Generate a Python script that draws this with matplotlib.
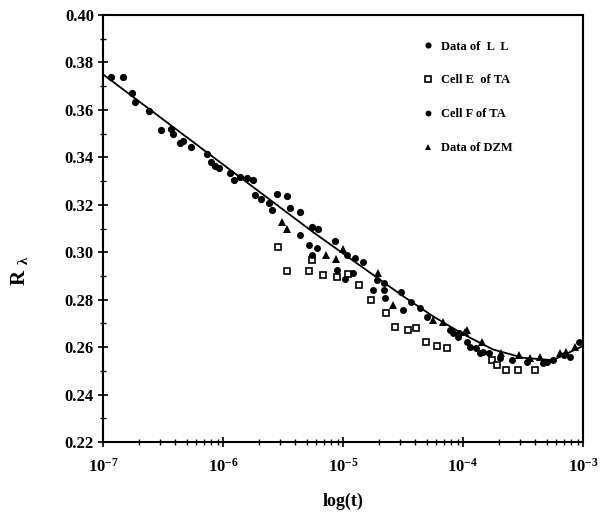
import numpy as np
import matplotlib
matplotlib.use("Agg")
import matplotlib.pyplot as plt
from matplotlib.ticker import FixedLocator, LogLocator, NullFormatter, MultipleLocator

plt.rcParams['font.family'] = ['Liberation Serif', 'DejaVu Serif']
plt.rcParams['font.weight'] = 'bold'
plt.rcParams['mathtext.fontset'] = 'custom'
plt.rcParams['mathtext.rm'] = 'Liberation Serif:bold'
plt.rcParams['mathtext.bf'] = 'Liberation Serif:bold'
plt.rcParams['mathtext.it'] = 'Liberation Serif:bold'

# ---- data (log10 of t, R_lambda) ----
ll_logt = [-6.93, -6.83, -6.76, -6.73, -6.62, -6.52, -6.43, -6.42, -6.36, -6.33,
           -6.27, -6.13, -6.10, -6.07, -6.03, -5.94, -5.91, -5.86, -5.80, -5.75,
           -5.73, -5.68, -5.62, -5.59, -5.55, -5.47, -5.44, -5.36, -5.26, -5.21, -5.07]
ll_r = [0.374, 0.374, 0.367, 0.3635, 0.3597, 0.3515, 0.3518, 0.350, 0.3462, 0.347,
        0.3442, 0.3414, 0.338, 0.3364, 0.3354, 0.3333, 0.3304, 0.3318, 0.3312, 0.3304,
        0.3241, 0.3223, 0.3206, 0.318, 0.3245, 0.3237, 0.3185, 0.3171, 0.3108, 0.3097, 0.3049]

cellE_logt = [-5.54, -5.47, -5.28, -5.26, -5.17, -5.05, -4.96, -4.87, -4.77, -4.64,
              -4.57, -4.46, -4.39, -4.31, -4.22, -4.13, -3.76, -3.72, -3.64, -3.54, -3.40]
cellE_r = [0.3023, 0.2922, 0.2922, 0.2967, 0.2904, 0.2897, 0.2908, 0.2862, 0.2799, 0.2742,
           0.2686, 0.2672, 0.2679, 0.2623, 0.2605, 0.2598, 0.2546, 0.2525, 0.2504, 0.2504, 0.2504]

cellF_logt = [-5.36, -5.28, -5.22, -5.26, -5.05, -4.98, -4.97, -4.90, -4.83, -4.92,
              -4.72, -4.66, -4.75, -4.66, -4.52, -4.65, -4.50, -4.43, -4.36, -4.30,
              -4.11, -4.03, -4.08, -4.04, -3.97, -3.94, -3.89, -3.86, -3.83, -3.78,
              -3.69, -3.59, -3.47, -3.33, -3.30, -3.25, -3.16, -3.11, -3.03]
cellF_r = [0.3073, 0.303, 0.3017, 0.2988, 0.2925, 0.2886, 0.2988, 0.2974, 0.296, 0.2911,
           0.2883, 0.2869, 0.2841, 0.2841, 0.2834, 0.2806, 0.2756, 0.2791, 0.2764, 0.2728,
           0.2672, 0.2658, 0.2658, 0.2644, 0.2623, 0.2602, 0.2595, 0.2574, 0.2581, 0.2574,
           0.2553, 0.2546, 0.2539, 0.2532, 0.2539, 0.2546, 0.2567, 0.256, 0.2623]

dzm_logt = [-5.51, -5.47, -5.14, -5.00, -5.06, -4.71, -4.58, -4.25, -4.17, -3.98,
            -3.97, -3.84, -3.68, -3.53, -3.44, -3.36, -3.19, -3.14, -3.07]
dzm_r = [0.3129, 0.3097, 0.2988, 0.3012, 0.297, 0.2911, 0.2778, 0.2714, 0.2707, 0.2665,
         0.2672, 0.2623, 0.2574, 0.2567, 0.2553, 0.256, 0.2574, 0.2581, 0.2602]

fit_logt = [-7.0, -6.75, -6.5, -6.25, -6.0, -5.75, -5.5, -5.25, -5.0, -4.75,
            -4.5, -4.25, -4.0, -3.75, -3.5, -3.25, -3.0]
fit_r = [0.375, 0.3655, 0.356, 0.3465, 0.337, 0.3275, 0.318, 0.3085, 0.2995, 0.2905,
         0.2815, 0.273, 0.2655, 0.259, 0.2555, 0.2545, 0.2605]

x_ticklabels = [r'$\mathbf{10^{-7}}$', r'$\mathbf{10^{-6}}$', r'$\mathbf{10^{-5}}$',
                r'$\mathbf{10^{-4}}$', r'$\mathbf{10^{-3}}$']
y_ticks = [0.22, 0.24, 0.26, 0.28, 0.30, 0.32, 0.34, 0.36, 0.38, 0.40]

def tt(a):
    return 10.0 ** np.asarray(a)

fig = plt.figure(figsize=(6.02, 5.13), dpi=100)
ax = fig.add_axes([103/602, 1-442/513, (583-103)/602, (442-15)/513])

ax.plot(tt(fit_logt), fit_r, color='black', lw=1.3, zorder=2)
ax.plot(tt(ll_logt), ll_r, 'o', color='black', ms=5.2, mew=0, label='Data of  L  L', zorder=3)
ax.plot(tt(cellE_logt), cellE_r, 's', mfc='white', mec='black', ms=4.3, mew=1.2,
        label='Cell E  of TA', zorder=3)
ax.plot(tt(cellF_logt), cellF_r, 'o', color='black', ms=5.0, mew=0, label='Cell F of TA', zorder=3)
ax.plot(tt(dzm_logt), dzm_r, '^', color='black', ms=5.5, mew=0, label='Data of DZM', zorder=3)

ax.set_xscale('log')
ax.set_xlim(1e-7, 1e-3)
ax.set_ylim(0.22, 0.40)
ax.xaxis.set_major_locator(FixedLocator([1e-7, 1e-6, 1e-5, 1e-4, 1e-3]))
ax.set_xticklabels(x_ticklabels)
ax.xaxis.set_minor_locator(LogLocator(base=10, subs=np.arange(2, 10)))
ax.xaxis.set_minor_formatter(NullFormatter())
ax.set_yticks(y_ticks)
ax.set_yticklabels([f'{v:.2f}' for v in y_ticks])
ax.yaxis.set_minor_locator(MultipleLocator(0.01))

ax.tick_params(which='major', direction='inout', length=7, width=1.2, labelsize=12)
ax.tick_params(axis='x', which='major', pad=8)
ax.tick_params(axis='y', which='major', pad=3)
ax.tick_params(which='minor', direction='inout', length=4, width=1.0)
for s in ax.spines.values():
    s.set_linewidth(1.5)

ax.set_xlabel('log(t)', fontsize=13, fontweight='bold', labelpad=12)
ax.set_ylabel(r'$\mathbf{R}\ _{\lambda}$', fontsize=15)
ax.yaxis.set_label_coords(-0.152, 0.40)

leg = ax.legend(loc='upper left', bbox_to_anchor=(0.665, 0.94), frameon=False, fontsize=9,
                handletextpad=0.5, labelspacing=1.75, handlelength=1.0, borderpad=0,
                borderaxespad=0, markerscale=0.85)

fig.savefig('out.png', dpi=100)
